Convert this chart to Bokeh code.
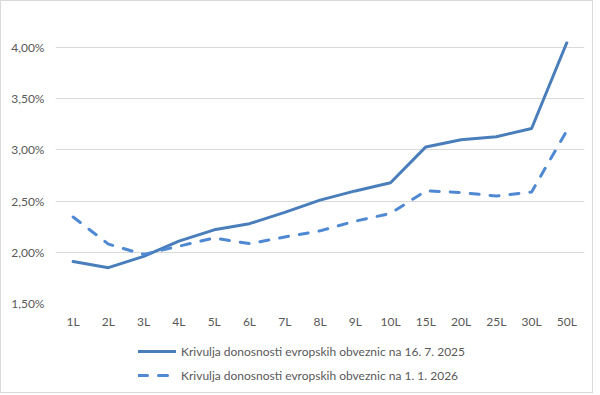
from bokeh.plotting import figure
from bokeh.layouts import column
from bokeh.models import (FactorRange, Range1d, FixedTicker, CustomJSTickFormatter,
                          Legend, LegendItem)
from bokeh.embed import file_html
from bokeh.resources import INLINE

maturities = ["1L", "2L", "3L", "4L", "5L", "6L", "7L", "8L", "9L", "10L",
              "15L", "20L", "25L", "30L", "50L"]
yield_2025 = [1.91, 1.85, 1.96, 2.11, 2.22, 2.28, 2.39, 2.51, 2.60, 2.68,
              3.03, 3.10, 3.13, 3.21, 4.05]
yield_2026 = [2.345, 2.08, 1.98, 2.06, 2.14, 2.085, 2.15, 2.21, 2.305, 2.38,
              2.60, 2.585, 2.55, 2.59, 3.19]
label_2025 = "Krivulja donosnosti evropskih obveznic na 16. 7. 2025"
label_2026 = "Krivulja donosnosti evropskih obveznic na 1. 1. 2026"
y_ticks = [1.5, 2.0, 2.5, 3.0, 3.5, 4.0]

FONT = "Lato"
GRAY = "#595959"
C1 = "#4a7ebb"
C2 = "#4f88d3"

p = figure(width=591, height=333, output_backend="svg", toolbar_location=None,
           x_range=FactorRange(*maturities, range_padding=0),
           y_range=Range1d(1.5, 4.06),
           min_border_left=54, min_border_right=8, min_border_top=40,
           min_border_bottom=31)
p.outline_line_color = None
p.background_fill_color = "white"
p.border_fill_color = "white"

p.line(maturities, yield_2025, line_color=C1, line_width=3,
       line_join="round", line_cap="round")
p.line(maturities, yield_2026, line_color=C2, line_width=3,
       line_dash="9 11", line_cap="round", line_join="round")

p.yaxis.ticker = FixedTicker(ticks=y_ticks)
p.yaxis.formatter = CustomJSTickFormatter(
    code="return tick.toFixed(2).replace('.', ',') + '%';")
for ax in (p.xaxis[0], p.yaxis[0]):
    ax.axis_line_color = None
    ax.major_tick_line_color = None
    ax.minor_tick_line_color = None
    ax.major_tick_out = 0
    ax.major_tick_in = 0
    ax.minor_tick_out = 0
    ax.major_label_text_font = FONT
    ax.major_label_text_font_size = "12px"
    ax.major_label_text_color = GRAY
p.yaxis.major_label_standoff = 11
p.xaxis.major_label_standoff = 10
p.xgrid.grid_line_color = None
p.ygrid.grid_line_color = "#d9d9d9"
p.ygrid.grid_line_width = 1

# legend strip (the series are drawn outside its visible range; only the legend shows)
q = figure(width=591, height=58, output_backend="svg", toolbar_location=None,
           x_range=FactorRange(*maturities, range_padding=0),
           y_range=Range1d(10, 11),
           min_border=0, x_axis_type=None, y_axis_type=None)
q.outline_line_color = None
q.xgrid.grid_line_color = None
q.ygrid.grid_line_color = None
q.border_fill_color = "white"
s1 = q.line(maturities, yield_2025, line_color=C1, line_width=3, line_cap="round")
s2 = q.line(maturities, yield_2026, line_color=C2, line_width=3,
            line_dash="9 11", line_cap="round")
legend = Legend(items=[LegendItem(label=label_2025, renderers=[s1]),
                       LegendItem(label=label_2026, renderers=[s2])],
                location=(83, 9), orientation="vertical",
                label_text_font=FONT, label_text_font_size="12px",
                label_text_color=GRAY, glyph_width=38, glyph_height=16,
                label_standoff=5, spacing=8, padding=0,
                margin=0, border_line_color=None, background_fill_alpha=0)
q.add_layout(legend, "center")

layout = column(p, q, spacing=0,
                styles={"border": "1px solid #d9d9d9"})

open("out.html", "w").write(file_html(layout, INLINE))
